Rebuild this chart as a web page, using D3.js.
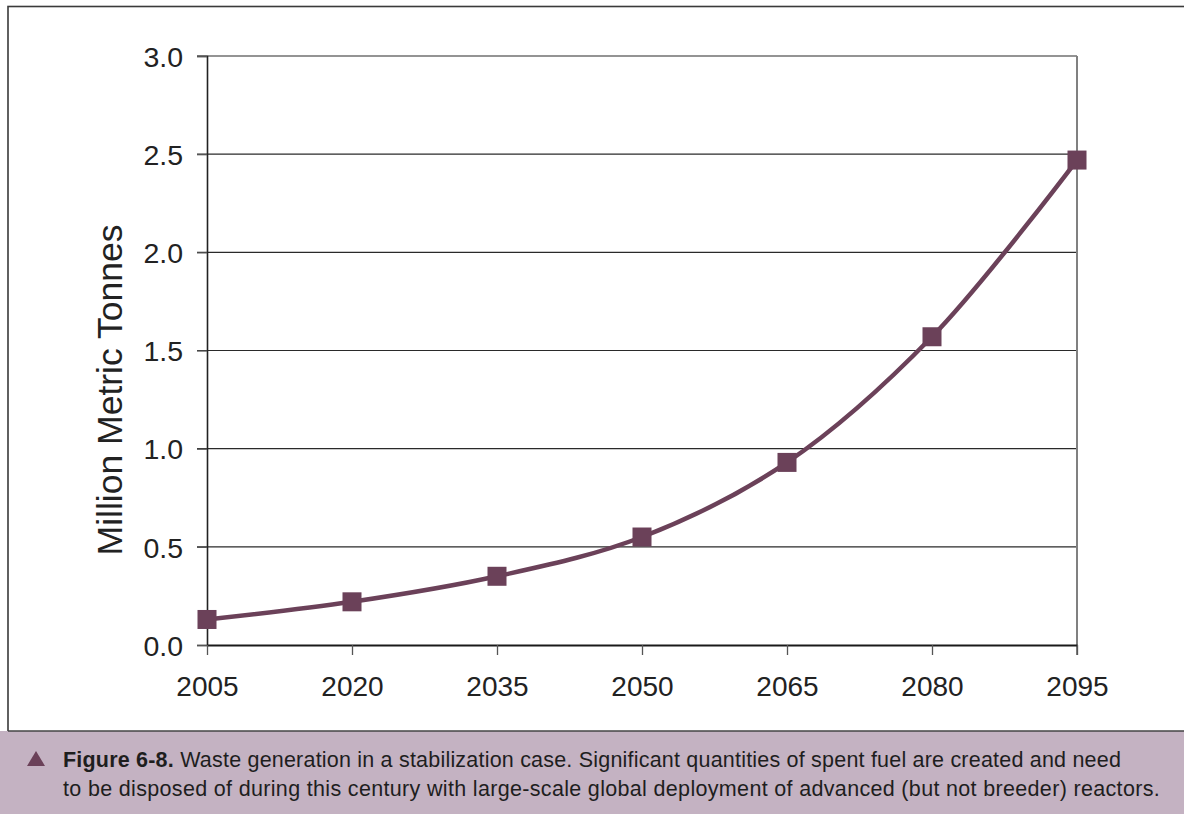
<!DOCTYPE html>
<html>
<head>
<meta charset="utf-8">
<script src="https://cdn.jsdelivr.net/npm/d3@7"></script>
<style>
  html, body { margin: 0; padding: 0; background: #fff; }
  svg { display: block; }
</style>
</head>
<body>
<svg id="chart" width="1184" height="814"></svg>
<script>
// Spent fuel accumulated, stabilization case (million metric tonnes)
const years = [2005, 2020, 2035, 2050, 2065, 2080, 2095];
const waste = [0.13, 0.22, 0.35, 0.55, 0.93, 1.57, 2.47];
const yTicks = [0, 0.5, 1.0, 1.5, 2.0, 2.5, 3.0];
const yTitle = "Million Metric Tonnes";
const captionBold = "Figure 6-8.";
const captionLine1 = " Waste generation in a stabilization case. Significant quantities of spent fuel are created and need";
const captionLine2 = "to be disposed of during this century with large-scale global deployment of advanced (but not breeder) reactors.";

const svg = d3.select("#chart");
const W = 1184, H = 814;
const plot = { left: 207, right: 1077, top: 56, bottom: 645 };
const lineColor = "#6b4159";
const tickFont = "'Liberation Sans', Arial, sans-serif";

// outer frame
svg.append("rect")
  .attr("x", 8).attr("y", 6.5).attr("width", W).attr("height", 730)
  .attr("fill", "#fff").attr("stroke", "#3a3a3a").attr("stroke-width", 1.6);

// caption panel
svg.append("rect")
  .attr("x", 0).attr("y", 731).attr("width", W).attr("height", H - 731)
  .attr("fill", "#c4b2c2");
svg.append("line")
  .attr("x1", 8).attr("x2", W).attr("y1", 731).attr("y2", 731)
  .attr("stroke", "#444").attr("stroke-width", 1.6);

const x = d3.scalePoint().domain(years).range([plot.left, plot.right]);
const y = d3.scaleLinear().domain([0, 3]).range([plot.bottom, plot.top]);

// horizontal gridlines
svg.append("g")
  .selectAll("line")
  .data(yTicks.filter(d => d > 0))
  .join("line")
  .attr("x1", plot.left - 10).attr("x2", plot.right)
  .attr("y1", d => y(d)).attr("y2", d => y(d))
  .attr("stroke", "#2a2a2a").attr("stroke-width", 1.1);

// right edge of the plot area
svg.append("line")
  .attr("x1", plot.right).attr("x2", plot.right)
  .attr("y1", plot.top).attr("y2", plot.bottom + 10)
  .attr("stroke", "#808080").attr("stroke-width", 2);

// y axis
const yAxis = d3.axisLeft(y).tickValues(yTicks).tickFormat(d3.format(".1f"))
  .tickSize(10).tickPadding(14);
const gy = svg.append("g").attr("transform", `translate(${plot.left},0)`).call(yAxis);
gy.select(".domain").attr("stroke", "#222").attr("stroke-width", 1.6);
gy.selectAll(".tick line").attr("stroke", "#555").attr("stroke-width", 1.3);
gy.selectAll("text")
  .attr("font-family", tickFont).attr("font-size", 28.5)
  .attr("fill", "#222").attr("dy", "0.36em");

// x axis
const xAxis = d3.axisBottom(x).tickSize(10).tickPadding(21).tickSizeOuter(0);
const gx = svg.append("g").attr("transform", `translate(0,${plot.bottom})`).call(xAxis);
gx.select(".domain").attr("stroke", "#1a1a1a").attr("stroke-width", 2.2);
gx.selectAll(".tick line").attr("stroke", "#555").attr("stroke-width", 1.3);
gx.selectAll("text")
  .attr("font-family", tickFont).attr("font-size", 28)
  .attr("fill", "#222").attr("dy", "0.71em");

// y axis title
svg.append("text")
  .attr("transform", `translate(122,390) rotate(-90)`)
  .attr("text-anchor", "middle")
  .attr("font-family", tickFont).attr("font-size", 35.5)
  .attr("fill", "#222")
  .text(yTitle);

// smoothed series line
const pts = years.map((yr, i) => [x(yr), y(waste[i])]);
svg.append("path")
  .datum(pts)
  .attr("d", d3.line().curve(d3.curveCatmullRom.alpha(0.5)))
  .attr("fill", "none").attr("stroke", lineColor).attr("stroke-width", 4.5);

// square markers
const m = 19;
svg.append("g")
  .selectAll("rect")
  .data(pts)
  .join("rect")
  .attr("x", d => d[0] - m / 2).attr("y", d => d[1] - m / 2)
  .attr("width", m).attr("height", m)
  .attr("fill", lineColor);

// caption
svg.append("path")
  .attr("d", "M27,766 L36,751 L45,766 Z")
  .attr("fill", "#6b4159");
const cap = svg.append("g")
  .attr("font-family", "'Liberation Sans', Arial, sans-serif")
  .attr("font-size", 21.5).attr("fill", "#1e1e1e");
const t1 = cap.append("text").attr("x", 63).attr("y", 767);
t1.append("tspan").attr("font-weight", "bold").text(captionBold);
t1.append("tspan").text(captionLine1);
const t2 = cap.append("text").attr("x", 63).attr("y", 796).text(captionLine2);

// fit caption lines to the panel's text width
function fitLine(sel, target) {
  const node = sel.node();
  const n = node.getNumberOfChars();
  const w = node.getComputedTextLength();
  sel.attr("letter-spacing", ((target - w) / n).toFixed(3));
}
fitLine(t1, 1121 - 63);
fitLine(t2, 1160 - 63);
</script>
</body>
</html>
